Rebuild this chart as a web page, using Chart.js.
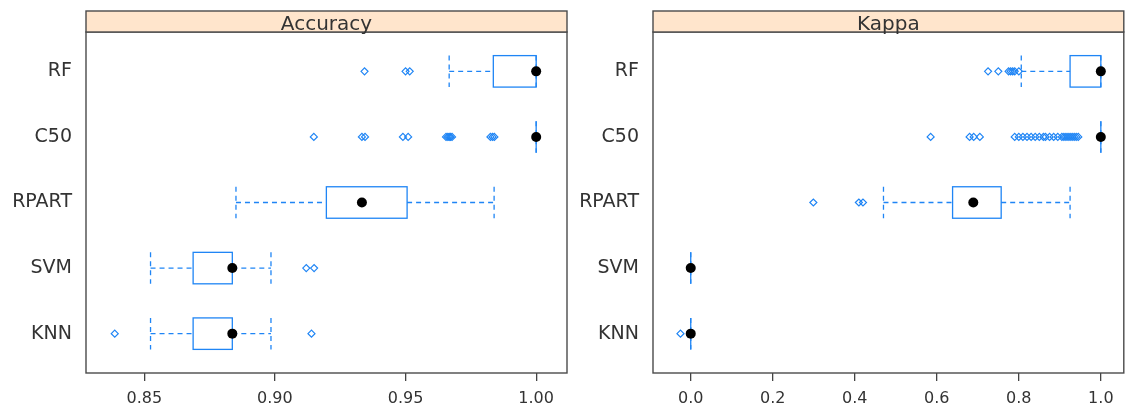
<!DOCTYPE html>
<html>
<head>
<meta charset="utf-8">
<script src="https://cdn.jsdelivr.net/npm/chart.js@4"></script>
<style>
  html, body { margin: 0; padding: 0; background: #fff; }
  .panel { position: absolute; top: 0; height: 410px; }
  #accBox { left: 0; width: 580px; }
  #kapBox { left: 580px; width: 549px; }
</style>
</head>
<body>
<div class="panel" id="accBox"><canvas id="accChart"></canvas></div>
<div class="panel" id="kapBox"><canvas id="kapChart"></canvas></div>
<script>
// models from bottom row to top row
const models = ["KNN", "SVM", "RPART", "C50", "RF"];

// Accuracy panel
const accLow = [0.8524, 0.8524, 0.8851, 1.0, 0.9667];
const accQ1 = [0.8687, 0.8687, 0.9197, 1.0, 0.9836];
const accMedian = [0.8837, 0.8837, 0.9333, 1.0, 1.0];
const accQ3 = [0.8837, 0.8837, 0.9506, 1.0, 1.0];
const accHigh = [0.8985, 0.8985, 0.9839, 1.0, 1.0];
const accOutliers = [
  [0.8387, 0.9140],
  [0.9120, 0.9150],
  [],
  [0.9149, 0.9333, 0.9345, 0.9490, 0.9510, 0.9655, 0.9662, 0.9667, 0.9672, 0.9678, 0.9825, 0.9833, 0.9840],
  [0.9343, 0.9500, 0.9516]
];
const accTicks = [0.85, 0.90, 0.95, 1.00];

// Kappa panel
const kapLow = [0, 0, 0.470, 1.0, 0.806];
const kapQ1 = [0, 0, 0.6385, 1.0, 0.925];
const kapMedian = [0, 0, 0.689, 1.0, 1.0];
const kapQ3 = [0, 0, 0.757, 1.0, 1.0];
const kapHigh = [0, 0, 0.925, 1.0, 1.0];
const kapOutliers = [
  [-0.025],
  [],
  [0.299, 0.410, 0.420],
  [0.585, 0.680, 0.690, 0.705, 0.790, 0.800, 0.810, 0.820, 0.830, 0.840, 0.850, 0.860, 0.865, 0.875,
   0.885, 0.895, 0.905, 0.910, 0.915, 0.920, 0.925, 0.930, 0.935, 0.940, 0.945],
  [0.725, 0.750, 0.775, 0.780, 0.785, 0.790, 0.800]
];
const kapTicks = [0.0, 0.2, 0.4, 0.6, 0.8, 1.0];

const BLUE = "#1f85f5";
const FRAME = "#4a4a4a";
const TEXT = "#333";
Chart.defaults.font.family = "'DejaVu Sans', sans-serif";

function makePanel(id, title, low, q1, med, q3, high, outliers, ticks, decimals, xmin, xmax, yWidth, rightPad) {
  const outPts = [];
  outliers.forEach((row, i) => row.forEach(v => outPts.push({ x: v, y: i + 1 })));
  const medPts = med.map((v, i) => ({ x: v, y: i + 1 }));

  const boxes = {
    id: "boxes",
    beforeDatasetsDraw(chart) {
      const { ctx } = chart;
      const xs = chart.scales.x, ys = chart.scales.y;
      const half = 0.24;
      ctx.save();
      ctx.strokeStyle = BLUE;
      ctx.lineWidth = 1.3;
      for (let i = 0; i < models.length; i++) {
        const yc = ys.getPixelForValue(i + 1);
        const yt = ys.getPixelForValue(i + 1 + half);
        const yb = ys.getPixelForValue(i + 1 - half);
        const xl = xs.getPixelForValue(low[i]);
        const x1 = xs.getPixelForValue(q1[i]);
        const x3 = xs.getPixelForValue(q3[i]);
        const xh = xs.getPixelForValue(high[i]);
        // whiskers and caps
        ctx.setLineDash([5, 4]);
        ctx.beginPath();
        ctx.moveTo(xl, yc); ctx.lineTo(x1, yc);
        ctx.moveTo(x3, yc); ctx.lineTo(xh, yc);
        ctx.moveTo(xl, yt); ctx.lineTo(xl, yb);
        ctx.moveTo(xh, yt); ctx.lineTo(xh, yb);
        ctx.stroke();
        // box
        ctx.setLineDash([]);
        ctx.strokeRect(x1, yt, x3 - x1, yb - yt);
      }
      ctx.restore();
    },
    afterDraw(chart) {
      const { ctx, chartArea } = chart;
      const { left, right, top, bottom } = chartArea;
      ctx.save();
      ctx.strokeStyle = FRAME;
      ctx.lineWidth = 1.4;
      ctx.strokeRect(left, top, right - left, bottom - top);
      ctx.fillStyle = "#ffe5cc";
      ctx.fillRect(left, 11, right - left, top - 11);
      ctx.strokeRect(left, 11, right - left, top - 11);
      ctx.fillStyle = TEXT;
      ctx.font = "20px 'DejaVu Sans'";
      ctx.textAlign = "center";
      ctx.textBaseline = "alphabetic";
      ctx.fillText(title, (left + right) / 2, 30);
      ctx.restore();
    }
  };

  return new Chart(document.getElementById(id), {
    type: "scatter",
    data: {
      datasets: [
        {
          data: medPts,
          pointStyle: "circle",
          pointRadius: 5,
          backgroundColor: "#000",
          borderColor: "#000",
          borderWidth: 0
        },
        {
          data: outPts,
          pointStyle: "rectRot",
          pointRadius: 3.5,
          backgroundColor: "rgba(0,0,0,0)",
          borderColor: BLUE,
          borderWidth: 1.2
        }
      ]
    },
    options: {
      responsive: true,
      maintainAspectRatio: false,
      animation: false,
      devicePixelRatio: 1,
      layout: { padding: { top: 32, right: rightPad, left: 0, bottom: 0 } },
      plugins: { legend: { display: false }, tooltip: { enabled: false } },
      scales: {
        x: {
          type: "linear",
          min: xmin,
          max: xmax,
          afterBuildTicks: a => { a.ticks = ticks.map(v => ({ value: v })); },
          afterFit: a => { a.height = 37; },
          ticks: {
            callback: v => Number(v).toFixed(decimals),
            font: { size: 16 },
            color: TEXT,
            padding: 8,
            maxRotation: 0,
            autoSkip: false
          },
          grid: { drawOnChartArea: false, drawTicks: true, tickLength: 8, color: "#444", lineWidth: 1.3 },
          border: { display: false }
        },
        y: {
          type: "linear",
          min: 0.4,
          max: 5.6,
          afterBuildTicks: a => { a.ticks = models.map((m, i) => ({ value: i + 1 })); },
          afterFit: a => { a.width = yWidth; },
          ticks: {
            callback: v => models[Math.round(v) - 1],
            font: { size: 19 },
            color: TEXT,
            padding: 14,
            autoSkip: false
          },
          grid: { display: false, drawTicks: false },
          border: { display: false }
        }
      }
    },
    plugins: [boxes]
  });
}

makePanel("accChart", "Accuracy", accLow, accQ1, accMedian, accQ3, accHigh, accOutliers,
  accTicks, 2, 0.8277, 1.0118, 86, 13);
makePanel("kapChart", "Kappa", kapLow, kapQ1, kapMedian, kapQ3, kapHigh, kapOutliers,
  kapTicks, 1, -0.092, 1.056, 73, 2);
</script>
</body>
</html>
